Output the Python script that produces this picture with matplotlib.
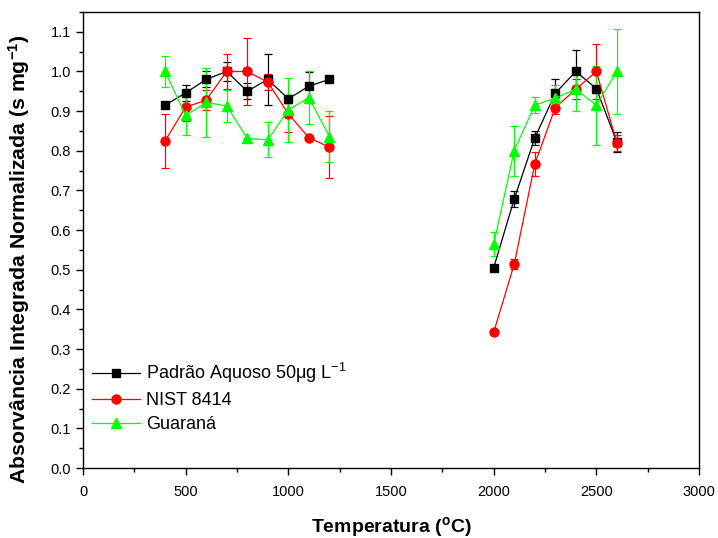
import matplotlib
matplotlib.use("Agg")
import matplotlib.pyplot as plt
from matplotlib.container import ErrorbarContainer
import numpy as np

plt.rcParams['font.family'] = ['Liberation Sans', 'DejaVu Sans']
plt.rcParams['mathtext.fontset'] = 'custom'
plt.rcParams['mathtext.rm'] = 'Liberation Sans'
plt.rcParams['mathtext.it'] = 'Liberation Sans:italic'
plt.rcParams['mathtext.bf'] = 'Liberation Sans:bold'

# Pyrolysis range and atomization range temperatures (°C)
temp_pyro = [400, 500, 600, 700, 800, 900, 1000, 1100, 1200]
temp_atom = [2000, 2100, 2200, 2300, 2400, 2500, 2600]

# Padrão aquoso
padrao_pyro = [0.915, 0.946, 0.980, 1.000, 0.950, 0.980, 0.931, 0.963, 0.980]
padrao_pyro_err = [0.0, 0.020, 0.020, 0.025, 0.020, 0.064, 0.010, 0.035, 0.0]
padrao_atom = [0.505, 0.678, 0.832, 0.945, 1.000, 0.957, 0.822]
padrao_atom_err = [0.0, 0.020, 0.018, 0.037, 0.055, 0.0, 0.025]

# NIST 8414
nist_pyro = [0.825, 0.910, 0.928, 1.000, 1.000, 0.973, 0.893, 0.833, 0.809]
nist_pyro_err = [0.068, 0.035, 0.025, 0.045, 0.085, 0.020, 0.046, 0.0, 0.078]
nist_atom = [0.342, 0.514, 0.766, 0.909, 0.955, 1.000, 0.820]
nist_atom_err = [0.0, 0.013, 0.030, 0.015, 0.025, 0.070, 0.020]

# Guaraná
guarana_pyro = [1.000, 0.889, 0.922, 0.913, 0.831, 0.828, 0.903, 0.934, 0.836]
guarana_pyro_err = [0.040, 0.050, 0.087, 0.041, 0.0, 0.044, 0.080, 0.066, 0.064]
guarana_atom = [0.564, 0.800, 0.915, 0.933, 0.955, 0.915, 1.000]
guarana_atom_err = [0.030, 0.063, 0.020, 0.032, 0.054, 0.100, 0.107]

series = [
    ("Padrão Aquoso 50$\\mathrm{\\mu}$g L$^{-1}$", "#000000", "s", 5.5,
     padrao_pyro, padrao_pyro_err, padrao_atom, padrao_atom_err),
    ("NIST 8414", "#ff0000", "o", 6.5,
     nist_pyro, nist_pyro_err, nist_atom, nist_atom_err),
    ("Guaraná", "#00ff00", "^", 7.5,
     guarana_pyro, guarana_pyro_err, guarana_atom, guarana_atom_err),
]

fig = plt.figure(figsize=(7.18, 5.38), dpi=100)
ax = fig.add_axes([83 / 718, 70 / 538, 616 / 718, 456 / 538])

for label, color, marker, ms, yp, ep, ya, ea in series:
    for i, (xs, ys, es) in enumerate([(temp_pyro, yp, ep), (temp_atom, ya, ea)]):
        ax.errorbar(xs, ys, yerr=es, color=color, marker=marker, markersize=ms,
                    markeredgecolor=color, markerfacecolor=color,
                    linewidth=0.9, elinewidth=0.9, capsize=3, capthick=0.9,
                    label=label if i == 0 else None)

ax.set_xlim(0, 3000)
ax.set_ylim(0.0, 1.15)
ax.set_xticks(np.arange(0, 3001, 500))
ax.set_xticks(np.arange(0, 3001, 250), minor=True)
ax.set_yticks(np.arange(0, 1.101, 0.1))
ax.set_yticks(np.arange(0, 1.151, 0.05), minor=True)
ax.yaxis.set_major_formatter(matplotlib.ticker.FormatStrFormatter('%.1f'))

ax.tick_params(which='major', direction='out', length=5, width=1, labelsize=10.5)
ax.tick_params(axis='x', which='major', pad=7)
ax.tick_params(which='minor', direction='out', length=3, width=1)
ax.tick_params(top=False, right=False)
for sp in ax.spines.values():
    sp.set_linewidth(1.0)

ax.set_xlabel("Temperatura ($\\mathbf{^{o}}$C)", fontsize=14, fontweight='bold', labelpad=12)
ax.set_ylabel("Absorvância Integrada Normalizada (s mg$\\mathbf{^{-1}}$)",
              fontsize=15.3, fontweight='bold')
ax.yaxis.set_label_coords(-0.082, 0.458)

handles, labels = ax.get_legend_handles_labels()
handles = [h[0] if isinstance(h, ErrorbarContainer) else h for h in handles]
ax.legend(handles, labels, loc='lower left', bbox_to_anchor=(0.0, 0.057),
          frameon=False, fontsize=13, handlelength=2.65, handletextpad=0.35,
          labelspacing=0.38, borderaxespad=0.1)

fig.savefig("out.png", dpi=100)
